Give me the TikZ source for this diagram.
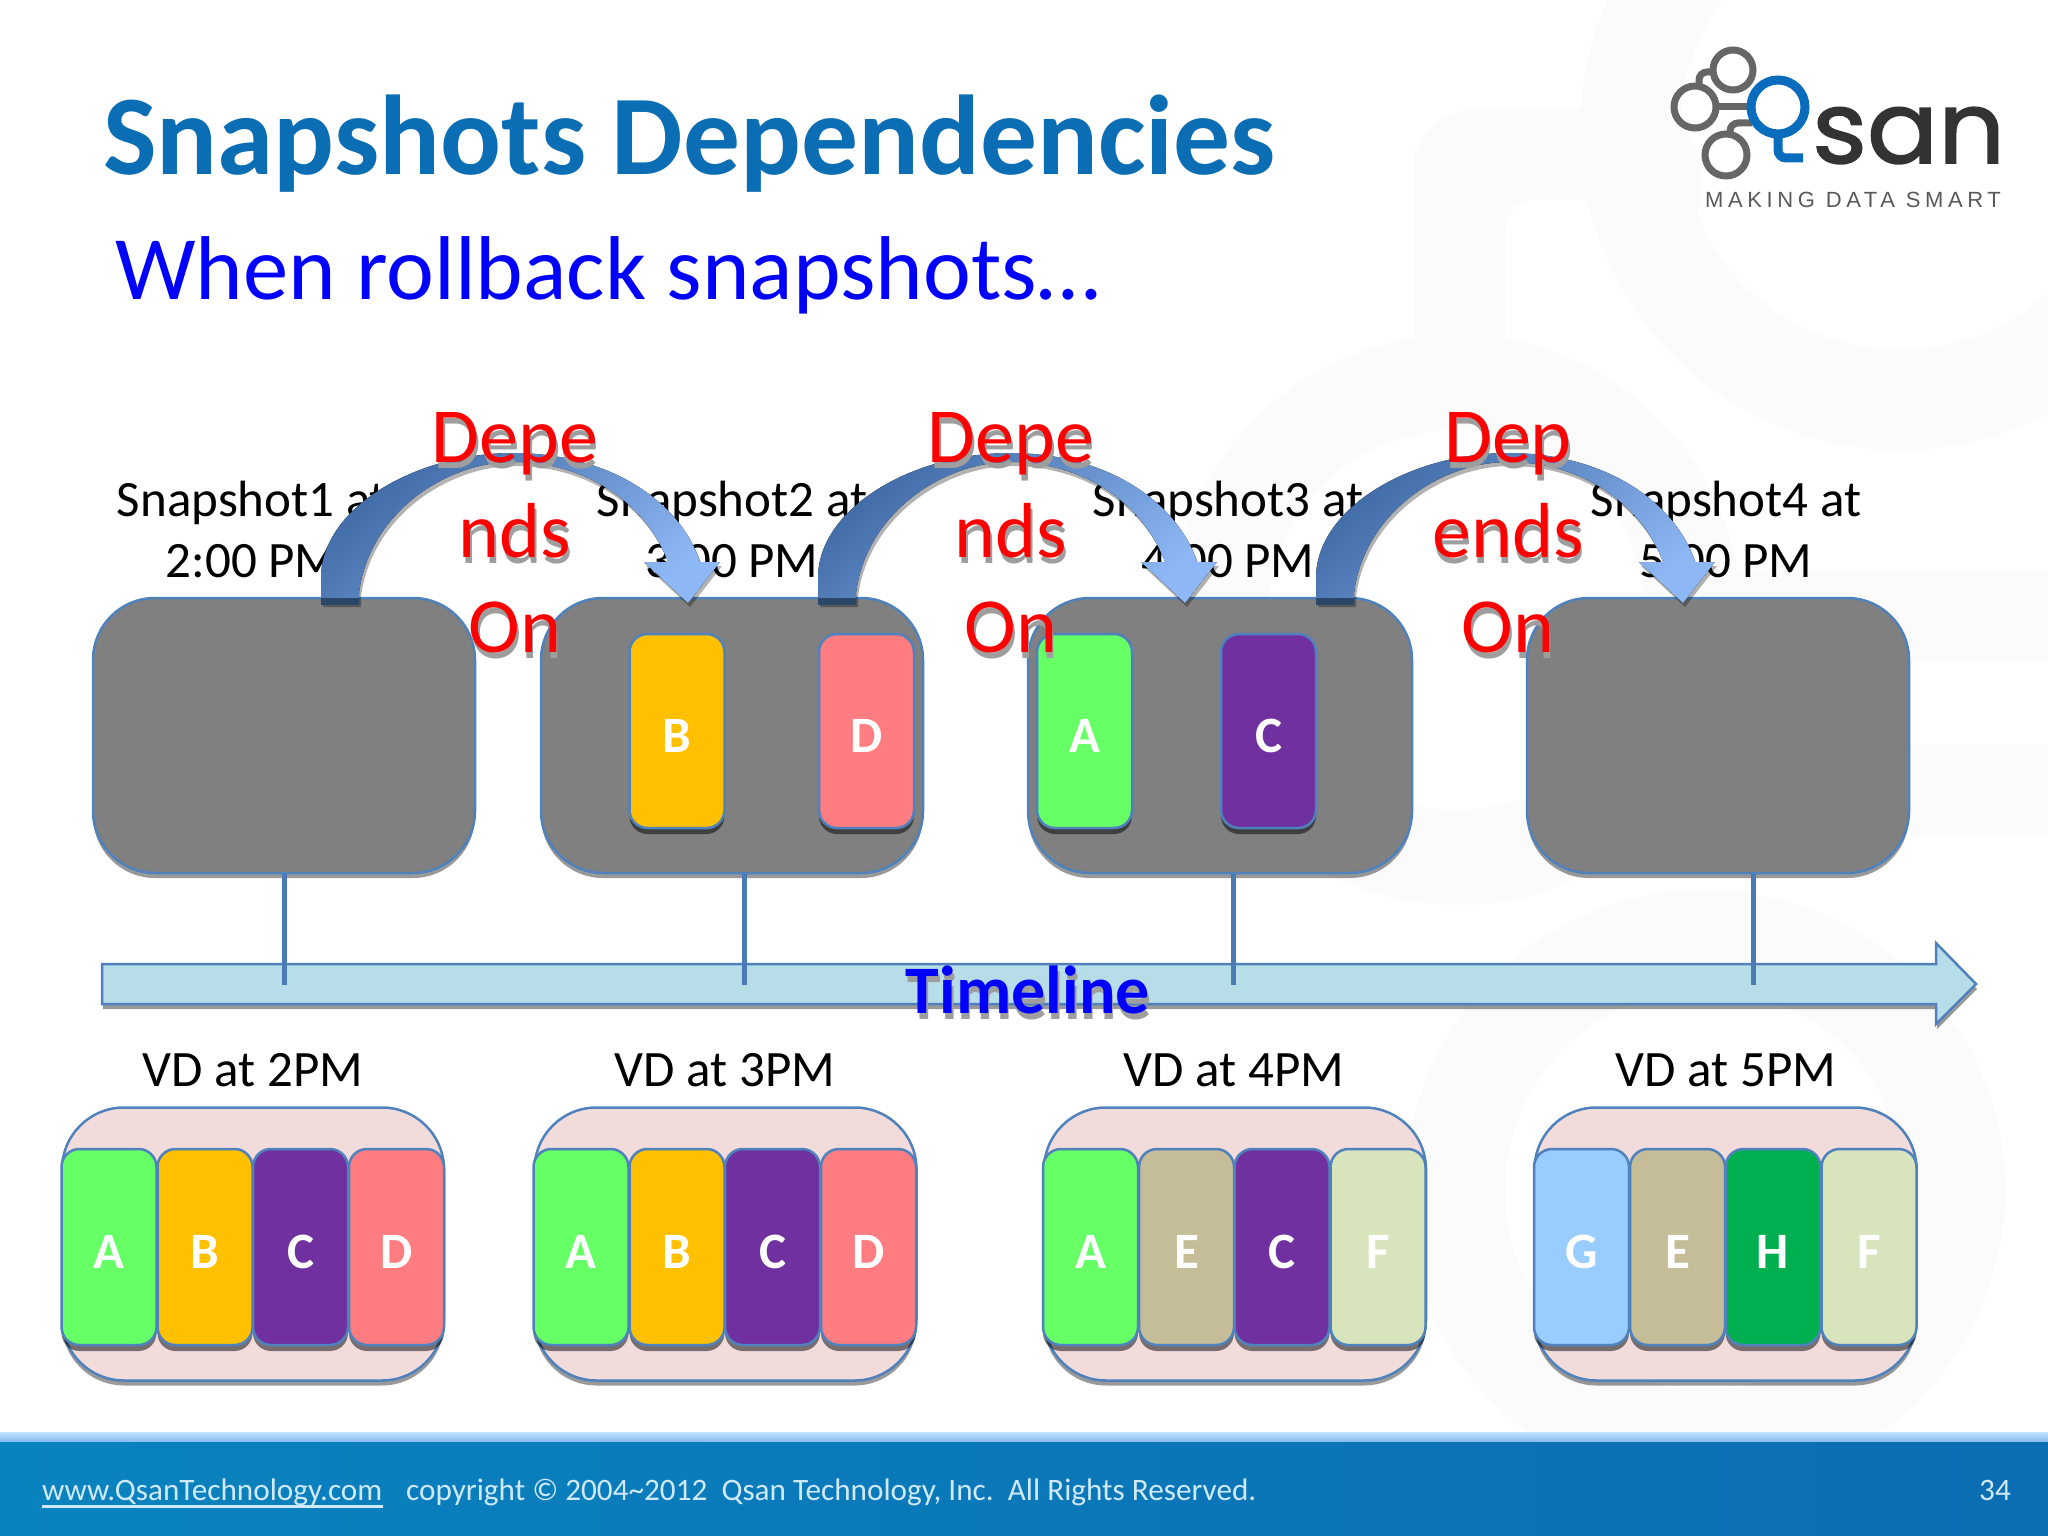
\documentclass[tikz,border=0pt]{standalone}
\usepackage{fontspec}
\setmainfont{Carlito}
\newfontfamily\logosan[FakeBold=1.6]{Poppins}
\newfontfamily\logotag[LetterSpace=21]{Liberation Sans}
\usetikzlibrary{shadows,calc}

\definecolor{edgeblue}{HTML}{4F81BD}
\definecolor{titleblue}{HTML}{0B6DB3}
\definecolor{panelgray}{HTML}{808080}
\definecolor{vdpink}{HTML}{F2DCDB}
\definecolor{tlblue}{HTML}{B7DDE8}
\definecolor{wmark}{HTML}{FBFBFC}
\definecolor{foottext}{HTML}{CFE9F8}
\definecolor{logogray}{HTML}{666666}
\definecolor{logoblue}{HTML}{0A6CBC}
\definecolor{arrowdark}{HTML}{3F6AA5}
\definecolor{arrowlight}{HTML}{8DB8F5}
\definecolor{cA}{HTML}{66FF66}
\definecolor{cB}{HTML}{FFC000}
\definecolor{cC}{HTML}{7030A0}
\definecolor{cD}{HTML}{FF7C80}
\definecolor{cE}{HTML}{C4BD97}
\definecolor{cF}{HTML}{D8E4BC}
\definecolor{cG}{HTML}{99CCFF}
\definecolor{cH}{HTML}{00B050}

\tikzset{
  panel/.style={draw=edgeblue, line width=2.5pt, fill=panelgray, rounded corners=62pt,
    inner sep=0pt, minimum width=382pt, minimum height=275pt,
    drop shadow={shadow xshift=0pt, shadow yshift=-5pt, opacity=.4, fill=black}},
  vdgroup/.style={panel, fill=vdpink, minimum height=273pt},
  cell/.style={draw=edgeblue, line width=2.5pt, rounded corners=18pt, inner sep=0pt,
    minimum width=95pt, minimum height=196pt, text=white, text height=43pt, text depth=0pt,
    font=\fontsize{51}{60}\selectfont\bfseries,
    drop shadow={shadow xshift=0pt, shadow yshift=-6pt, opacity=.5, fill=black}},
  lbl/.style={font=\fontsize{51}{61}\selectfont, align=center, inner sep=0pt},
  dep/.style={font=\fontsize{78}{95}\selectfont, align=center, inner sep=0pt},
  foot/.style={text=foottext, font=\fontsize{31.2}{36}\selectfont, inner sep=0pt, anchor=base west},
  tick/.style={draw=edgeblue!95!black, line width=5pt},
  curvearrow/.pic={
    \fill[top color=arrowdark, bottom color=arrowlight, shading angle=40,
      drop shadow={shadow xshift=2pt, shadow yshift=-4pt, opacity=.3, fill=black}]
      (0,0) -- (0,-25) .. controls (0,-95) and (95,-150) .. (192,-150)
      .. controls (290,-150) and (360,-100) .. (379,-41)
      -- (399,-41) -- (367,0) -- (323,-41) -- (347,-41)
      .. controls (325,-100) and (265,-141) .. (192,-141)
      .. controls (125,-141) and (48,-90) .. (38,-10) -- (38,0) -- cycle;
    \fill[edgeblue!55!black] (0,-5) rectangle (38,2);
  }
}

% text with a gray copy behind it
\newcommand{\shadownode}[4]{
  \node[#2, text=black!38] (#1s) at ($(#3)+(1.5,6)$) {#4};
  \node[#2] (#1) at (#3) {#4};
}

\begin{document}
\begin{tikzpicture}[x=1pt,y=-1pt]
  \useasboundingbox (0,0) rectangle (2048,1536);

  % watermark behind everything
  \fill[wmark] (1414,150) rectangle (1505,340);
  \fill[wmark, rounded corners=60pt] (1414,110) rectangle (1700,260);
  \fill[white, rounded corners=30pt] (1505,200) rectangle (1620,420);
  \fill[wmark, even odd rule] (1900,130) circle (320) (1900,130) circle (220);
  \fill[wmark, even odd rule] (1457,620) circle (285) (1457,620) circle (190);
  \fill[wmark, even odd rule] (1705,1190) circle (300) (1705,1190) circle (200);
  \fill[wmark] (1700,570) rectangle (2048,660);
  \fill[wmark] (1700,745) rectangle (2048,835);

  % title
  \node[text=titleblue, font=\fontsize{113.5}{125}\selectfont\bfseries, anchor=base west, inner sep=0pt]
    (title) at (103,175) {Snapshots Dependencies};
  \node[text=blue, font=\fontsize{90.6}{105}\selectfont, anchor=base west, inner sep=0pt]
    (subtitle) at (115,299) {When rollback snapshots…};

  % logo
  \draw[logogray, line width=7pt] (1733,70) circle (20) (1695,107) circle (21) (1726,155) circle (21);
  \draw[logogray, line width=7pt, rounded corners=8pt] (1699,86) -- (1699,72) -- (1713,72);
  \draw[logogray, line width=7pt] (1716,107) -- (1752,107);
  \draw[logogray, line width=7pt, rounded corners=8pt] (1730,134) -- (1730,123) -- (1752,123);
  \draw[logoblue, line width=9pt] (1778,107) circle (27);
  \draw[logoblue, line width=9pt, rounded corners=8pt] (1778,132) -- (1778,158) -- (1803,158);
  \node[text=black!80, font=\fontsize{100}{100}\logosan\selectfont, inner sep=0pt, anchor=base west]
    (logosan) at (1812,163) {\scalebox{1.05}[1]{san}};
  \node[text=black!65, font=\fontsize{22}{26}\logotag\selectfont, inner sep=0pt]
    (logotag) at (1853,200) {MAKING DATA SMART};

  % labels of the snapshots, the arrows go over them
  \node[lbl] (lab1) at (252,529) {Snapshot1 at\\2:00 PM};
  \node[lbl] (lab2) at (732,529) {Snapshot2 at\\3:00 PM};
  \node[lbl] (lab3) at (1228,529) {Snapshot3 at\\4:00 PM};
  \node[lbl] (lab4) at (1726,529) {Snapshot4 at\\5:00 PM};

  % timeline
  \draw[draw=edgeblue, line width=2.5pt, fill=tlblue,
    drop shadow={shadow xshift=1pt, shadow yshift=-5pt, opacity=.4, fill=black}]
    (102,964) -- (1936,964) -- (1936,943) -- (1976,984) -- (1936,1024) -- (1936,1004) -- (102,1004) -- cycle;
  \coordinate (tick1) at (284,985);
  \coordinate (tick2) at (744,985);
  \coordinate (tick3) at (1233,985);
  \coordinate (tick4) at (1753,985);

  % snapshots
  \node[panel] (pan1) at (284,735.5) {};
  \node[panel] (pan2) at (732,735.5) {};
  \node[panel, minimum width=384pt] (pan3) at (1220,735.5) {};
  \node[panel] (pan4) at (1718,735.5) {};

  \node[cell, fill=cB, minimum height=194pt] (sb) at (677,731) {B};
  \node[cell, fill=cD, minimum height=194pt] (sd) at (866.5,731) {D};
  \node[cell, fill=cA, minimum height=194pt] (sa) at (1084.5,731) {A};
  \node[cell, fill=cC, minimum height=194pt] (sc) at (1268.5,731) {C};

  \draw[tick] (tick1 |- pan1.south) -- (tick1);
  \draw[tick] (tick2 |- pan2.south) -- (tick2);
  \draw[tick] (tick3 |- pan3.south) -- (tick3);
  \draw[tick] (tick4 |- pan4.south) -- (tick4);

  \pic at (321,603) {curvearrow};
  \pic at (818,603) {curvearrow};
  \pic at (1316,603) {curvearrow};

  \shadownode{timeline}{text=blue, font=\fontsize{68}{70}\selectfont\bfseries, inner sep=0pt}{1028,990}{Timeline}

  % virtual disks
  \node[lbl] (vdl1) at (253,1070) {VD at 2PM};
  \node[lbl] (vdl2) at (725,1070) {VD at 3PM};
  \node[lbl] (vdl3) at (1234,1070) {VD at 4PM};
  \node[lbl] (vdl4) at (1726,1070) {VD at 5PM};

  \node[vdgroup] (vd1) at (253,1244) {};
  \node[vdgroup] (vd2) at (725.5,1244) {};
  \node[vdgroup] (vd3) at (1235,1244) {};
  \node[vdgroup] (vd4) at (1725.5,1244) {};

  \node[cell, fill=cA] (a1) at (109,1247) {A};
  \node[cell, fill=cB] (b1) at (205,1247) {B};
  \node[cell, fill=cC] (c1) at (300.5,1247) {C};
  \node[cell, fill=cD] (d1) at (396.5,1247) {D};

  \node[cell, fill=cA] (a2) at (581,1247) {A};
  \node[cell, fill=cB] (b2) at (677,1247) {B};
  \node[cell, fill=cC] (c2) at (772.5,1247) {C};
  \node[cell, fill=cD] (d2) at (868.5,1247) {D};

  \node[cell, fill=cA] (a3) at (1090.5,1247) {A};
  \node[cell, fill=cE] (e3) at (1186.5,1247) {E};
  \node[cell, fill=cC] (c3) at (1282,1247) {C};
  \node[cell, fill=cF] (f3) at (1378,1247) {F};

  \node[cell, fill=cG] (g4) at (1581.5,1247) {G};
  \node[cell, fill=cE] (e4) at (1677.5,1247) {E};
  \node[cell, fill=cH] (h4) at (1773,1247) {H};
  \node[cell, fill=cF] (f4) at (1869,1247) {F};

  % red text on top
  \shadownode{dep1}{dep, text=red}{515,533}{Depe\\nds\\On}
  \shadownode{dep2}{dep, text=red}{1011,533}{Depe\\nds\\On}
  \shadownode{dep3}{dep, text=red}{1508,533}{Dep\\ends\\On}

  % footer
  \shade[top color=cG!60!white, bottom color=cG!75!edgeblue] (0,1432) rectangle (2048,1442);
  \shade[left color=titleblue!85!cyan, right color=titleblue] (0,1442) rectangle (2048,1536);
  \node[foot] (www) at (42,1500) {www.QsanTechnology.com};
  \draw[foottext, line width=3pt] (www.west |- 0,1506) -- (www.east |- 0,1506);
  \node[foot] (copy) at (406,1500) {copyright © 2004\textasciitilde 2012\ \ Qsan Technology, Inc.\ \ All Rights Reserved.};
  \node[foot] (page) at (1979,1500) {34};
\end{tikzpicture}
\end{document}
